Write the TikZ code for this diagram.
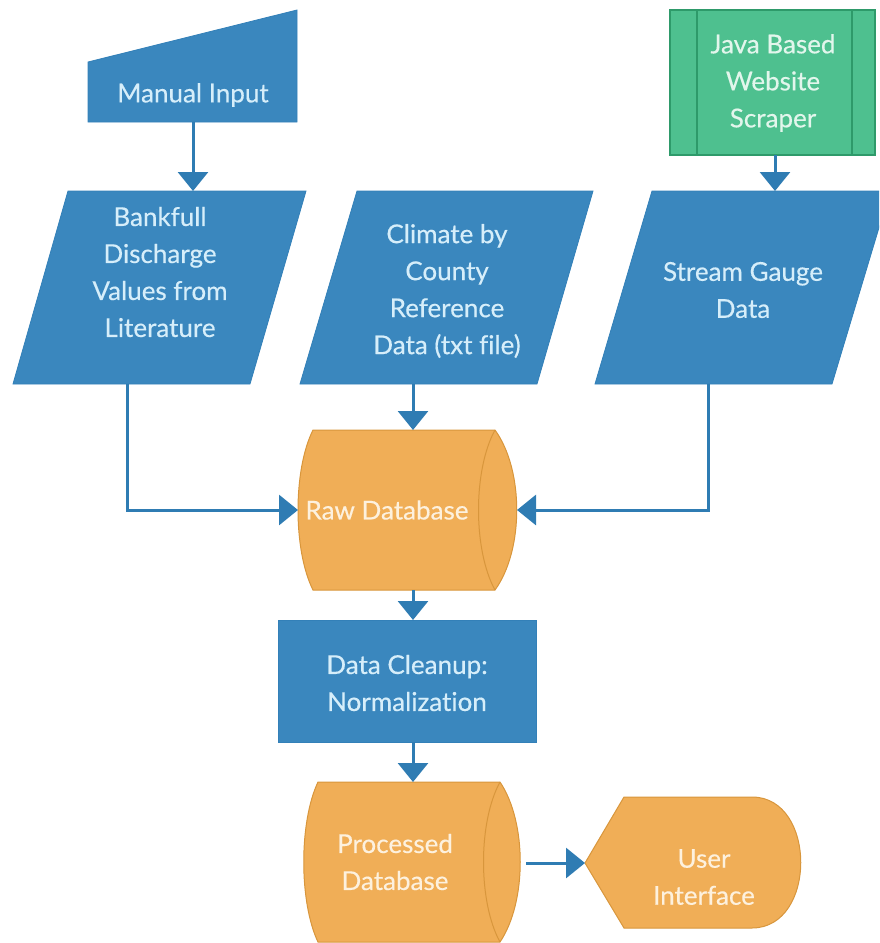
\documentclass[tikz,border=0pt]{standalone}
\usepackage{fontspec}
\setmainfont{Lato}[Ligatures=NoCommon]
\usetikzlibrary{arrows.meta}
\definecolor{bfill}{HTML}{3A87BE}
\definecolor{bline}{HTML}{3380B8}
\definecolor{cline}{HTML}{2F7CB3}
\definecolor{gfill}{HTML}{4EC08F}
\definecolor{gline}{HTML}{2E9A6A}
\definecolor{ofill}{HTML}{F0AE57}
\definecolor{oline}{HTML}{D8963C}
\definecolor{btext}{HTML}{D6EEFA}
\definecolor{otext}{HTML}{FDF1DE}
\definecolor{gtext}{HTML}{E2F6EC}
\tikzset{
  bshape/.style={fill=bfill, draw=bline, line width=0.8pt},
  oshape/.style={fill=ofill, draw=oline, line width=1pt},
  gshape/.style={fill=gfill, draw=gline, line width=1.2pt},
  conn/.style={draw=cline, line width=3pt, -{Triangle[width=30pt,length=19pt]}},
  lbl/.style={inner sep=0pt, align=center, font=\fontsize{26}{37}\selectfont\addfontfeature{FakeBold=0.4}},
  blbl/.style={lbl, text=btext},
  olbl/.style={lbl, text=otext},
  glbl/.style={lbl, text=gtext}
}
\begin{document}
\begin{tikzpicture}[x=1pt,y=-1pt]
\useasboundingbox (0,0) rectangle (879,943);
\clip (0,0) rectangle (879,943);
% shapes
\path[bshape] (88,62) -- (297,10) -- (297,122) -- (88,122) -- cycle;
\path[gshape] (670,10) rectangle (875,155);
\draw[gline, line width=1.2pt] (697,10) -- (697,155) (852,10) -- (852,155);
\path[bshape] (13,384) -- (68,191) -- (306,191) -- (250,384) -- cycle;
\path[bshape] (300,384) -- (357,191) -- (593,191) -- (537,384) -- cycle;
\path[bshape] (595,384) -- (652,191) -- (890,191) -- (832,384) -- cycle;
\path[oshape] (313,430) -- (495,430) .. controls (524,470) and (524,550) .. (495,590)
  -- (313,590) .. controls (293,550) and (293,470) .. (313,430) -- cycle;
\draw[oline, line width=1pt] (495,430) .. controls (473,470) and (473,550) .. (495,590);
\path[bshape] (278,620) rectangle (536,742);
\path[oshape] (318,782) -- (500,782) .. controls (527,822) and (527,902) .. (500,942)
  -- (318,942) .. controls (299,902) and (299,822) .. (318,782) -- cycle;
\draw[oline, line width=1pt] (500,782) .. controls (478,822) and (478,902) .. (500,942);
\path[oshape] (585,863) -- (624,797) -- (752,797) .. controls (817,797) and (817,928) .. (752,928)
  -- (624,928) -- cycle;
% labels
\node[blbl] (mi) at (193,95) {Manual Input};
\node[glbl] (java) at (773,83) {Java Based\\Website\\Scraper};
\node[blbl] (bank) at (160,272) {Bankfull\\Discharge\\Values from\\Literature};
\node[blbl] (clim) at (447,291) {Climate by\\County\\Reference\\Data (txt file)};
\node[blbl] (strm) at (743,290) {Stream Gauge\\Data};
\node[olbl] (raw) at (387,510) {Raw Database};
\node[blbl] (clean) at (407,683) {Data Cleanup:\\Normalization};
\node[olbl] (proc) at (395,862) {Processed\\Database};
\node[olbl] (ui) at (704,877) {User\\Interface};
% connection points
\coordinate (mi-s) at (193,122);
\coordinate (bank-n) at (193,191);
\coordinate (java-s) at (775,155);
\coordinate (strm-n) at (775,191);
\coordinate (clim-s) at (413,384);
\coordinate (raw-n) at (413,430);
\coordinate (bank-s) at (127,384);
\coordinate (raw-w) at (298,510);
\coordinate (strm-s) at (708,384);
\coordinate (raw-e) at (517,510);
\coordinate (raw-s) at (413,590);
\coordinate (clean-n) at (413,620);
\coordinate (clean-s) at (413,742);
\coordinate (proc-n) at (413,782);
\coordinate (proc-e) at (526,863);
\coordinate (ui-w) at (585,863);
% connectors
\draw[conn] (mi-s) -- (bank-n);
\draw[conn] (java-s) -- (strm-n);
\draw[conn] (clim-s) -- (raw-n);
\draw[conn] (bank-s) |- (raw-w);
\draw[conn] (strm-s) |- (raw-e);
\draw[conn] (raw-s) -- (clean-n);
\draw[conn] (clean-s) -- (proc-n);
\draw[conn] (proc-e) -- (ui-w);
\end{tikzpicture}
\end{document}
